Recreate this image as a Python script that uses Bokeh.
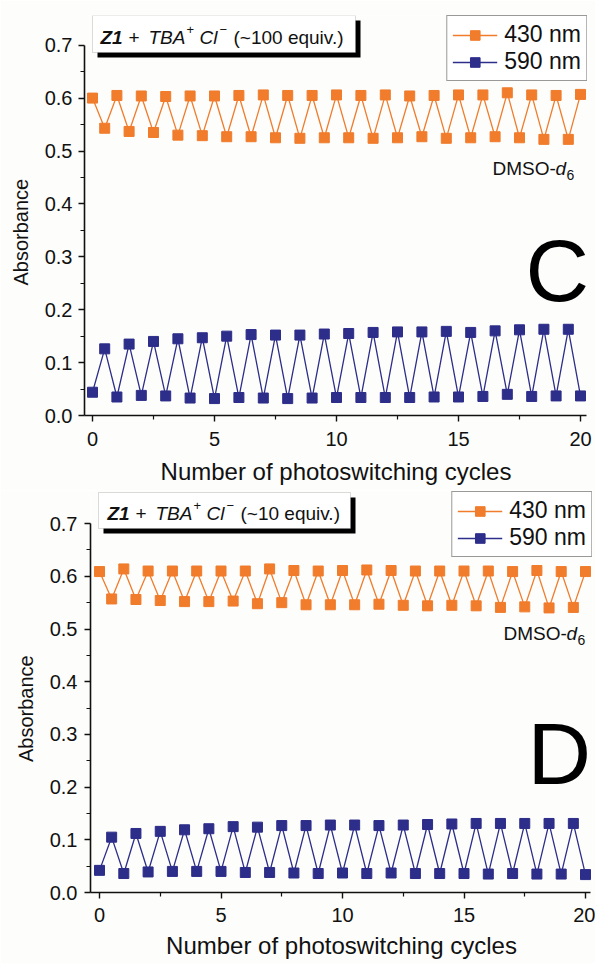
from bokeh.plotting import figure
from bokeh.models import FixedTicker, PrintfTickFormatter, Label, BoxAnnotation, Legend, LegendItem, Range1d
from bokeh.embed import file_html
from bokeh.resources import INLINE

cycles = [0, 0.5, 1, 1.5, 2, 2.5, 3, 3.5, 4, 4.5, 5, 5.5, 6, 6.5, 7, 7.5, 8, 8.5, 9, 9.5, 10,
          10.5, 11, 11.5, 12, 12.5, 13, 13.5, 14, 14.5, 15, 15.5, 16, 16.5, 17, 17.5, 18, 18.5,
          19, 19.5, 20]

c_430 = [0.600, 0.543, 0.605, 0.537, 0.604, 0.535, 0.603, 0.530, 0.604, 0.529, 0.604, 0.527,
         0.605, 0.527, 0.606, 0.525, 0.605, 0.524, 0.605, 0.525, 0.606, 0.525, 0.605, 0.524,
         0.606, 0.525, 0.604, 0.527, 0.605, 0.524, 0.606, 0.525, 0.606, 0.527, 0.610, 0.525,
         0.606, 0.522, 0.605, 0.522, 0.607]
c_590 = [0.044, 0.126, 0.035, 0.135, 0.038, 0.140, 0.037, 0.145, 0.033, 0.147, 0.032, 0.150,
         0.034, 0.153, 0.033, 0.152, 0.032, 0.152, 0.033, 0.154, 0.034, 0.155, 0.034, 0.157,
         0.034, 0.158, 0.034, 0.158, 0.035, 0.159, 0.035, 0.157, 0.036, 0.160, 0.040, 0.162,
         0.036, 0.163, 0.037, 0.163, 0.037]

d_430 = [0.609, 0.557, 0.614, 0.556, 0.610, 0.554, 0.610, 0.552, 0.610, 0.552, 0.610, 0.553,
         0.610, 0.548, 0.614, 0.550, 0.611, 0.546, 0.610, 0.546, 0.611, 0.546, 0.612, 0.547,
         0.611, 0.545, 0.610, 0.544, 0.610, 0.545, 0.610, 0.544, 0.610, 0.541, 0.609, 0.542,
         0.611, 0.540, 0.609, 0.541, 0.609]
d_590 = [0.042, 0.105, 0.036, 0.112, 0.039, 0.116, 0.040, 0.119, 0.040, 0.121, 0.040, 0.125,
         0.038, 0.124, 0.038, 0.127, 0.037, 0.127, 0.036, 0.128, 0.037, 0.128, 0.036, 0.127,
         0.037, 0.128, 0.036, 0.129, 0.036, 0.130, 0.036, 0.131, 0.035, 0.131, 0.036, 0.131,
         0.035, 0.131, 0.035, 0.131, 0.034]

x_ticks = [0, 5, 10, 15, 20]
x_minor = [2.5, 7.5, 12.5, 17.5]
y_ticks = [0.0, 0.1, 0.2, 0.3, 0.4, 0.5, 0.6, 0.7]
y_minor = [0.05, 0.15, 0.25, 0.35, 0.45, 0.55, 0.65]
series_labels = ["430 nm", "590 nm"]
x_title = "Number of photoswitching cycles"
y_title = "Absorbance"
panel_letters = ["C", "D"]
equivs = ["(~100 equiv.)", "(~10 equiv.)"]

ORANGE = "#F07C2C"
NAVY = "#2D2D8A"
FONT = "Liberation Sans"
BG = "#FDFDFB"
INK = "#111111"
NBSP = "\u00a0"


def make_panel(H, fl, fr, ft, fb, x0px, sx, sy, y430, y590, letter, equiv, geo):
    y0px = fb
    p = figure(width=595, height=H, output_backend="svg", toolbar_location=None,
               min_border_left=fl, min_border_right=595 - fr, min_border_top=ft,
               min_border_bottom=H - fb,
               x_range=Range1d((fl - x0px) / sx, (fr - x0px) / sx),
               y_range=Range1d(0, (y0px - ft) / sy))
    p.background_fill_color = BG
    p.border_fill_color = BG
    p.outline_line_color = None
    p.grid.visible = False

    def X(px):
        return (px - x0px) / sx

    def Y(py):
        return (y0px - py) / sy

    for ax in (p.xaxis[0], p.yaxis[0]):
        ax.axis_line_width = 1.6
        ax.axis_line_color = INK
        ax.major_tick_line_color = INK
        ax.minor_tick_line_color = INK
        ax.major_tick_line_width = 1.4
        ax.minor_tick_line_width = 1.2
        ax.major_tick_in = 0
        ax.major_tick_out = 6
        ax.minor_tick_in = 0
        ax.minor_tick_out = 4
        ax.major_label_text_font = FONT
        ax.major_label_text_font_size = "20px"
        ax.major_label_text_color = INK
        ax.axis_label_text_font = FONT
        ax.axis_label_text_font_style = "normal"
        ax.axis_label_text_color = INK

    p.xaxis.ticker = FixedTicker(ticks=x_ticks, minor_ticks=x_minor)
    p.yaxis.ticker = FixedTicker(ticks=y_ticks, minor_ticks=y_minor)
    p.yaxis.formatter = PrintfTickFormatter(format="%.1f")
    p.yaxis.bounds = (0, 0.7)
    p.xaxis.bounds = (X(fl), X(geo["xaxis_end"]))
    p.xaxis.major_label_standoff = geo["xstand"]
    p.yaxis.major_label_standoff = geo["ystand"]
    p.xaxis.axis_label = x_title
    p.xaxis.axis_label_text_font_size = "24px"
    p.xaxis.axis_label_standoff = geo["xlabstand"]
    # trailing spaces move the rotated title down to the centre of the 0-0.7 axis
    p.yaxis.axis_label = y_title + NBSP * 6
    p.yaxis.axis_label_text_font_size = "20px"
    p.yaxis.axis_label_standoff = 10

    l1 = p.line(cycles, y430, line_color=ORANGE, line_width=1.3)
    s1 = p.scatter(cycles, y430, marker="square", size=10, fill_color=ORANGE, line_color=ORANGE)
    l2 = p.line(cycles, y590, line_color=NAVY, line_width=1.3)
    s2 = p.scatter(cycles, y590, marker="square", size=10, fill_color=NAVY, line_color=NAVY)

    legend = Legend(items=[LegendItem(label=series_labels[0], renderers=[l1, s1]),
                           LegendItem(label=series_labels[1], renderers=[l2, s2])],
                    location="top_right", margin=0, padding=5, spacing=0,
                    glyph_width=45, glyph_height=24, label_height=24, label_standoff=7,
                    label_text_font=FONT, label_text_font_size="23px",
                    label_text_color=INK, border_line_color="#333333",
                    border_line_width=1, background_fill_color="white",
                    background_fill_alpha=1.0)
    p.add_layout(legend)

    bl, br, bt, bb = geo["box"]
    p.add_layout(BoxAnnotation(left=X(bl + 5), right=X(br + 5), top=Y(bt + 5), bottom=Y(bb + 5),
                               fill_color="#000000", fill_alpha=1.0, line_color=None))
    p.add_layout(BoxAnnotation(left=X(bl), right=X(br), top=Y(bt), bottom=Y(bb),
                               fill_color="white", fill_alpha=1.0, line_color="#888888",
                               line_width=1))

    tx, mid = geo["text"]
    parts = [
        ("Z1", 0, 0, "19px", "bold italic"),
        ("+", 28, 0, "19px", "normal"),
        ("TBA", 48, 0, "19px", "italic"),
        ("+", 86, -8, "13px", "normal"),
        ("Cl", 99, 0, "19px", "italic"),
        ("\u2212", 119, -8, "13px", "normal"),
        (equiv, 133, 0, "19px", "normal"),
    ]
    for txt, dx, dy, fs, st in parts:
        p.add_layout(Label(x=X(tx + dx), y=Y(mid + dy), text=txt, text_font=FONT,
                           text_font_size=fs, text_font_style=st, text_color=INK,
                           text_baseline="middle", text_align="left"))

    dxs, dmid = geo["dmso"]
    p.add_layout(Label(x=X(dxs), y=Y(dmid), text="DMSO-", text_font=FONT,
                       text_font_size="19px", text_color=INK,
                       text_baseline="middle", text_align="left"))
    p.add_layout(Label(x=X(dxs + 63), y=Y(dmid), text="d", text_font=FONT,
                       text_font_size="19px", text_font_style="italic", text_color=INK,
                       text_baseline="middle", text_align="left"))
    p.add_layout(Label(x=X(dxs + 74), y=Y(dmid + 6), text="6", text_font=FONT,
                       text_font_size="14px", text_color=INK,
                       text_baseline="middle", text_align="left"))

    lx, lmid = geo["letter"]
    p.add_layout(Label(x=X(lx), y=Y(lmid), text=letter, text_font=FONT,
                       text_font_size="88px", text_color="#000000",
                       text_baseline="middle", text_align="left"))
    return p


# panel C occupies page rows 0-490, panel D rows 490-963
geoC = {"xaxis_end": 586, "box": (92, 355, 15, 52), "text": (100, 37),
        "dmso": (492, 168), "letter": (525, 270), "xstand": 10, "ystand": 6,
        "xlabstand": 9}
geoD = {"xaxis_end": 590, "box": (98, 350, 2, 38), "text": (107, 23),
        "dmso": (503, 143), "letter": (527, 263), "xstand": 9, "ystand": 7,
        "xlabstand": 7}

pC = make_panel(490, 84, 587, 15, 415, 92, 24.4, 529, c_430, c_590, panel_letters[0], equivs[0], geoC)
pD = make_panel(473, 90, 592, 1, 402, 99, 24.3, 527, d_430, d_590, panel_letters[1], equivs[1], geoD)

open("out.html", "w").write(file_html([pC, pD], INLINE))
